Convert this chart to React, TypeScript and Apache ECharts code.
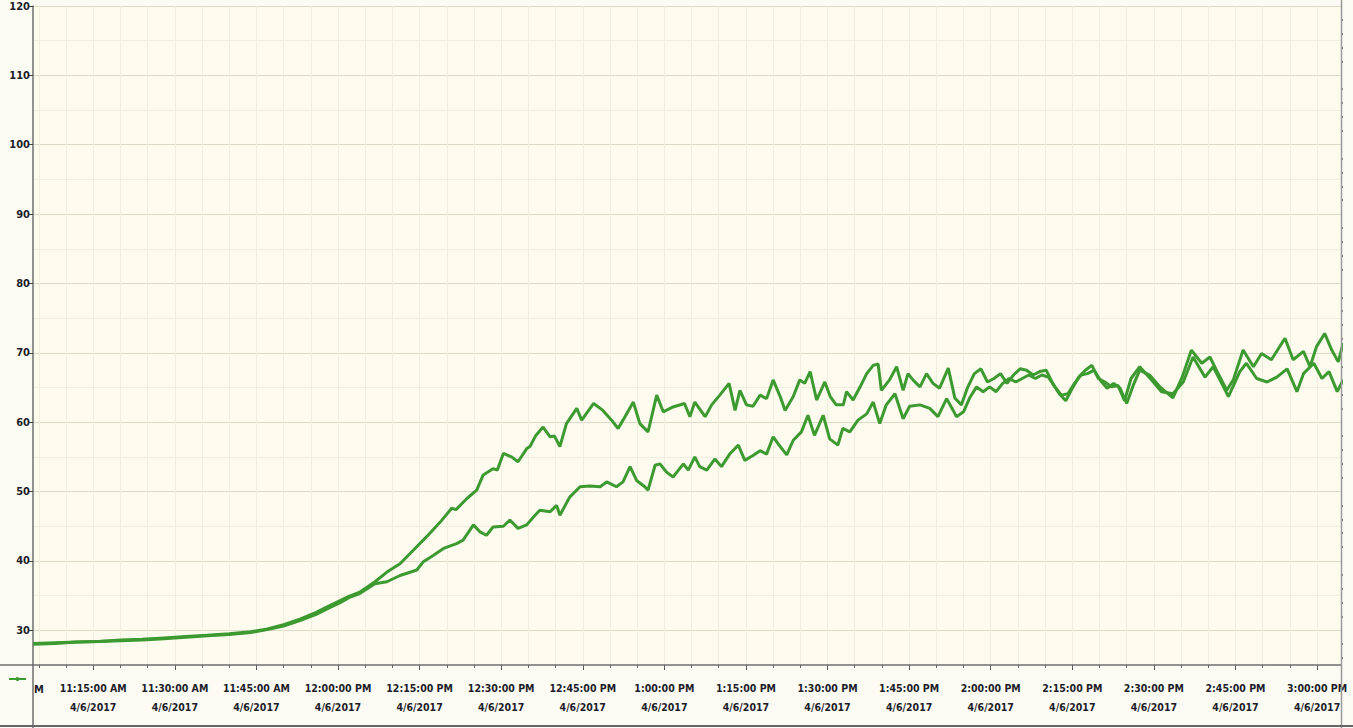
import React, { useEffect, useRef } from "react";
import * as echarts from "echarts";

// minutes after 11:00 AM, 4/6/2017
const seriesAMinutes = [4, 8, 12, 16, 20, 24, 28, 32, 36, 40, 44, 47, 50, 53, 56, 58, 60.4, 62, 64, 66.8, 69, 71.4, 73.8, 76.3, 78.8, 80.9, 81.7, 83.7, 85.5, 86.7, 88.5, 89.3, 90.4, 91.9, 93.1, 94.7, 95.3, 96.3, 97.7, 99, 99.8, 100.8, 102, 103.9, 104.8, 107, 108.7, 110.3, 111.5, 112.4, 114.3, 115.5, 117, 118.6, 119.8, 121.6, 123.7, 124.7, 125.6, 127.5, 128.7, 130.2, 131.9, 133, 133.9, 135.1, 136.3, 137.6, 138.8, 140, 141.3, 142.2, 143.7, 144.9, 145.8, 146.8, 148, 149.5, 150.5, 151.6, 152.9, 153.5, 154.7, 156, 157.2, 158.4, 159.3, 159.9, 161.4, 162.7, 163.9, 164.8, 165.7, 167, 168.2, 169.4, 170.6, 172.2, 173.4, 174.6, 175.8, 177, 178.2, 179.4, 180.6, 181.8, 183, 184.2, 185.4, 186.6, 187.8, 189, 190.2, 191.4, 192.6, 193.8, 195, 196.2, 197.4, 198.6, 199.8, 201, 202.2, 203.4, 204.6, 205.8, 207.4, 209.9, 211.4, 213.5, 215.4, 217.2, 219.4, 220.9, 222.8, 223.7, 225.8, 227, 228.9, 230.8, 232.6, 234.5, 236.3, 237.5, 239.4, 240.9, 242.2, 243.7, 244.8];
const seriesAValues = [28.1, 28.2, 28.3, 28.4, 28.6, 28.7, 28.9, 29.1, 29.3, 29.5, 29.8, 30.2, 30.8, 31.6, 32.6, 33.4, 34.3, 34.9, 35.5, 37.0, 38.4, 39.6, 41.5, 43.5, 45.6, 47.6, 47.4, 49.0, 50.2, 52.4, 53.3, 53.1, 55.5, 55.0, 54.3, 56.2, 56.5, 58.0, 59.3, 57.9, 58.0, 56.5, 59.8, 62.0, 60.3, 62.7, 61.7, 60.3, 59.1, 60.3, 62.9, 59.8, 58.6, 63.9, 61.5, 62.2, 62.7, 60.8, 62.9, 60.8, 62.5, 63.9, 65.6, 61.7, 64.6, 62.5, 62.3, 63.9, 63.4, 66.1, 63.7, 61.7, 63.7, 66.1, 65.6, 67.3, 63.2, 65.8, 63.7, 62.5, 62.5, 64.4, 63.2, 65.1, 67.0, 68.2, 68.4, 64.6, 66.1, 68.0, 64.6, 67.0, 66.1, 65.1, 67.0, 65.6, 64.9, 67.8, 63.5, 62.5, 65.1, 67.0, 67.7, 65.8, 66.3, 67.0, 65.6, 66.8, 67.7, 67.5, 66.8, 67.3, 67.5, 65.6, 64.1, 63.1, 64.9, 66.5, 67.5, 68.2, 66.3, 65.8, 65.1, 65.3, 63.1, 66.3, 68.0, 65.8, 64.4, 64.1, 65.8, 69.4, 66.5, 68.0, 65.1, 63.7, 67.3, 68.5, 66.3, 65.8, 66.5, 67.7, 64.4, 67.0, 68.5, 66.3, 67.3, 64.4, 66.1];

const seriesBMinutes = [4, 8, 12, 16, 20, 24, 28, 32, 36, 40, 44, 47, 50, 53, 56, 58, 60.4, 62, 64, 66.8, 69, 71.4, 74.5, 75.7, 77.5, 79.4, 81.8, 83, 84.9, 86.1, 87.3, 88.5, 90.4, 91.6, 93.1, 94.7, 95.9, 97.1, 99, 100.2, 100.8, 102.6, 104.5, 106.3, 108.2, 109.4, 111.2, 112.4, 113.7, 114.9, 116.4, 117, 118.3, 119.2, 120.4, 121.6, 123.5, 124.4, 125.6, 126.5, 127.8, 129.3, 130.5, 132.1, 133.6, 134.8, 136.3, 137.6, 138.8, 140, 140.9, 142.5, 143.7, 145.2, 146.4, 147.6, 149.2, 150.4, 151.9, 152.8, 154.1, 155.6, 157.2, 158.4, 159.6, 160.8, 162.4, 163.9, 165.1, 167, 168.8, 170.3, 171.9, 173.1, 173.7, 175, 176.2, 177.4, 178.6, 179.8, 181, 182.2, 183.4, 184.6, 185.8, 187, 188.2, 189.4, 190.6, 191.8, 193, 194.2, 195.4, 196.6, 197.8, 199, 200.2, 201.4, 202.6, 203.8, 205, 206.2, 207.4, 209.2, 211.1, 213.5, 215.2, 216.9, 218.8, 220.3, 221.5, 223.4, 224.6, 226.4, 228.3, 229.8, 231.6, 234.1, 235.6, 237.5, 238.7, 239.9, 241.4, 242.7, 243.9, 244.8];
const seriesBValues = [28.0, 28.1, 28.3, 28.4, 28.5, 28.6, 28.8, 29.0, 29.2, 29.4, 29.7, 30.1, 30.6, 31.4, 32.3, 33.1, 34.0, 34.7, 35.3, 36.7, 37.0, 37.9, 38.7, 39.9, 40.8, 41.8, 42.5, 43.0, 45.2, 44.2, 43.7, 44.9, 45.0, 45.9, 44.7, 45.2, 46.3, 47.3, 47.1, 48.0, 46.6, 49.2, 50.7, 50.8, 50.7, 51.4, 50.7, 51.4, 53.6, 51.6, 50.7, 50.2, 53.8, 54.0, 52.8, 52.1, 54.0, 53.1, 55.0, 53.6, 53.1, 54.7, 53.6, 55.5, 56.7, 54.5, 55.2, 55.9, 55.4, 57.9, 56.9, 55.3, 57.4, 58.6, 61.0, 58.1, 61.0, 57.6, 56.7, 59.1, 58.6, 60.3, 61.2, 62.9, 59.8, 62.5, 64.1, 60.5, 62.3, 62.5, 62.0, 60.8, 63.4, 61.7, 60.8, 61.5, 63.6, 65.1, 64.4, 65.1, 64.4, 65.6, 66.3, 65.8, 66.3, 66.8, 66.3, 66.8, 66.5, 65.1, 63.9, 64.1, 65.6, 66.8, 67.0, 67.5, 66.0, 64.9, 65.6, 64.9, 62.7, 65.3, 67.5, 66.8, 65.1, 63.5, 66.5, 70.4, 68.5, 69.4, 67.5, 64.6, 66.1, 70.4, 68.0, 69.9, 69.0, 72.1, 69.0, 70.2, 68.0, 70.9, 72.8, 70.4, 68.7, 71.4];

const xTickMinutes = [15, 30, 45, 60, 75, 90, 105, 120, 135, 150, 165, 180, 195, 210, 225, 240];
const xMinorMinutes = [5, 10, 15, 20, 25, 30, 35, 40, 45, 50, 55, 60, 65, 70, 75, 80, 85, 90, 95, 100, 105, 110, 115, 120, 125, 130, 135, 140, 145, 150, 155, 160, 165, 170, 175, 180, 185, 190, 195, 200, 205, 210, 215, 220, 225, 230, 235, 240];
const yTickValues = [30, 40, 50, 60, 70, 80, 90, 100, 110, 120];
const yHalfValues = [35, 45, 55, 65, 75, 85, 95, 105, 115];
const yMinorValues = [26, 28, 32, 34, 36, 38, 42, 44, 46, 48, 52, 54, 56, 58, 62, 64, 66, 68, 72, 74, 76, 78, 82, 84, 86, 88, 92, 94, 96, 98, 102, 104, 106, 108, 112, 114, 116, 118];
const dateLabel = "4/6/2017";

const FONT = "'Liberation Sans Narrow', 'DejaVu Sans Condensed', 'Liberation Sans', sans-serif";
const GREEN = "#3c9a30";

function fmtTime(m: number): string {
  const total = Math.round(m);
  const h24 = 11 + Math.floor(total / 60);
  const mm = total % 60;
  const ampm = h24 < 12 ? "AM" : "PM";
  const h12 = h24 > 12 ? h24 - 12 : h24;
  return `${h12}:${mm < 10 ? "0" + mm : mm}:00 ${ampm}\n${dateLabel}`;
}

export default function App() {
  const ref = useRef<HTMLDivElement>(null);
  useEffect(() => {
    if (!ref.current) return;
    const chart = echarts.init(ref.current, null, { renderer: "svg" });
    const dataA = seriesAMinutes.map((m, i) => [m, seriesAValues[i]]);
    const dataB = seriesBMinutes.map((m, i) => [m, seriesBValues[i]]);
    const xMin = 3.93;
    const xMax = 244.4;
    chart.setOption({
      animation: false,
      backgroundColor: "#fbfbf4",
      grid: {
        left: 33,
        right: 12,
        top: 6,
        bottom: 63,
        show: true,
        backgroundColor: "#fcfbee",
        borderWidth: 0,
      },
      xAxis: [
        {
          type: "value",
          min: xMin,
          max: xMax,
          axisLine: { show: true, lineStyle: { color: "#6e6e6e", width: 1.5 } },
          axisTick: { show: true, length: 5, customValues: xTickMinutes, lineStyle: { color: "#555" } },
          axisLabel: {
            customValues: xTickMinutes,
            formatter: (v: number) => fmtTime(v),
            color: "#1e1e2a",
            fontWeight: "bold",
            fontFamily: FONT,
            fontSize: 10.5,
            lineHeight: 19,
            margin: 13,
          },
          splitLine: { show: true, lineStyle: { color: "#dcd9c6", width: 1 } },
        },
        {
          type: "value",
          min: xMin,
          max: xMax,
          position: "bottom",
          axisLine: { show: false },
          axisTick: { show: true, length: 3, customValues: xMinorMinutes, lineStyle: { color: "#666" } },
          axisLabel: { show: false },
          splitLine: { show: true, lineStyle: { color: "#f1eee0", width: 1 } },
        },
      ],
      yAxis: [
        {
          type: "value",
          min: 25,
          max: 120,
          axisLine: { show: true, lineStyle: { color: "#6e6e6e", width: 1.5 } },
          axisTick: { show: true, length: 4, customValues: yTickValues, lineStyle: { color: "#444" } },
          axisLabel: {
            customValues: yTickValues,
            color: "#1e1e2a",
            fontWeight: "bold",
            fontFamily: FONT,
            fontSize: 11,
            margin: 3,
          },
          splitLine: { show: true, lineStyle: { color: "#dcd9c6", width: 1 } },
        },
        {
          type: "value",
          min: 25,
          max: 120,
          axisLine: { show: false },
          axisTick: { show: false, customValues: yHalfValues },
          axisLabel: { show: false },
          splitLine: { show: true, lineStyle: { color: "#f1eee0", width: 1 } },
        },
        {
          type: "value",
          min: 25,
          max: 120,
          axisLine: { show: false },
          axisTick: { show: true, length: 2, customValues: yMinorValues, lineStyle: { color: "#555", width: 1.5 } },
          axisLabel: { show: false },
          splitLine: { show: false },
        },
      ],
      series: [
        {
          type: "line",
          name: "A",
          data: dataA,
          showSymbol: false,
          symbol: "none",
          lineStyle: { color: GREEN, width: 3 },
          xAxisIndex: 0,
          yAxisIndex: 0,
          z: 5,
        },
        {
          type: "line",
          name: "B",
          data: dataB,
          showSymbol: false,
          symbol: "none",
          lineStyle: { color: GREEN, width: 3 },
          xAxisIndex: 0,
          yAxisIndex: 0,
          z: 5,
        },
      ],
      graphic: [
        { type: "line", shape: { x1: 0, y1: 665, x2: 33, y2: 665 }, style: { stroke: "#6e6e6e", lineWidth: 1.5 }, z: 10 },
        { type: "line", shape: { x1: 33, y1: 665, x2: 33, y2: 728 }, style: { stroke: "#6e6e6e", lineWidth: 1.5 }, z: 10 },
        { type: "line", shape: { x1: 1341.5, y1: 0, x2: 1341.5, y2: 728 }, style: { stroke: "#9a9a9a", lineWidth: 1.5 }, z: 10 },
        { type: "line", shape: { x1: 0, y1: 726, x2: 1353, y2: 726 }, style: { stroke: "#666", lineWidth: 2 }, z: 10 },
        { type: "line", shape: { x1: 9, y1: 679, x2: 26, y2: 679 }, style: { stroke: GREEN, lineWidth: 2 }, z: 10 },
        { type: "circle", shape: { cx: 17.5, cy: 679, r: 2 }, style: { fill: GREEN }, z: 10 },
        {
          type: "text",
          x: 34,
          y: 684,
          style: { text: "M", fill: "#1e1e2a", font: `bold 11px ${FONT}` },
          z: 10,
        },
      ],
    });
    return () => chart.dispose();
  }, []);
  return (
    <div
      ref={ref}
      style={{ position: "fixed", left: 0, top: 0, width: "1353px", height: "728px" }}
    />
  );
}
